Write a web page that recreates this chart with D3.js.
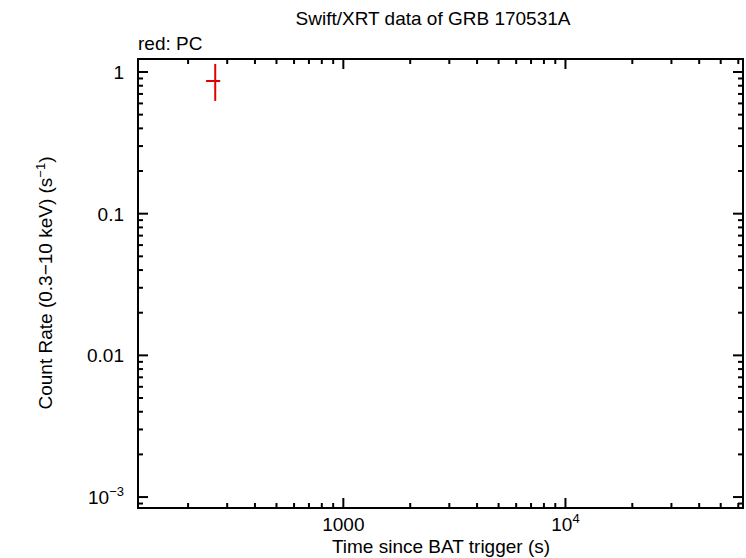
<!DOCTYPE html>
<html><head><meta charset="utf-8">
<script src="https://cdn.jsdelivr.net/npm/d3@7"></script>
<style>body{margin:0;background:#fff}text{font-family:"Liberation Sans",Arial,sans-serif}</style>
</head><body><svg width="746" height="558"></svg>
<script>
// PC data point
var times = [265];
var timeLo = [241];
var timeHi = [279];
var rates = [0.864];
var rateLo = [0.625];
var rateHi = [1.14];
var xTicks = [1000, 10000];
var yTicks = [1, 0.1, 0.01, 0.001];

var L = 138, R = 743, T = 59, B = 508;
var svg = d3.select('svg');
var x = d3.scaleLog().domain([119, 63000]).range([L, R]);
var y = d3.scaleLog().domain([8.37e-4, 1.235]).range([B, T]);

function minorTicks(sc){
	var d = sc.domain(), out = [];
	for (var e = Math.floor(Math.log10(d[0])); e <= Math.ceil(Math.log10(d[1])); e++)
		for (var m = 1; m < 10; m++){
			var v = m * Math.pow(10, e);
			if (v >= d[0] && v <= d[1]) out.push({v: v, major: m == 1});
		}
	return out;
}
var g = svg.append('g').attr('stroke', '#000').attr('stroke-width', 2);
minorTicks(x).forEach(function(t){
	var len = t.major ? 10 : 5;
	g.append('line').attr('x1', x(t.v)).attr('x2', x(t.v)).attr('y1', B).attr('y2', B - len);
	g.append('line').attr('x1', x(t.v)).attr('x2', x(t.v)).attr('y1', T).attr('y2', T + len);
});
minorTicks(y).forEach(function(t){
	var len = t.major ? 10 : 5;
	g.append('line').attr('y1', y(t.v)).attr('y2', y(t.v)).attr('x1', L).attr('x2', L + len);
	g.append('line').attr('y1', y(t.v)).attr('y2', y(t.v)).attr('x1', R).attr('x2', R - len);
});
svg.append('rect').attr('x', L).attr('y', T).attr('width', R - L).attr('height', B - T)
	.attr('fill', 'none').attr('stroke', '#000').attr('stroke-width', 2);

var fs = 19;
xTicks.forEach(function(v){
	var t = svg.append('text').attr('x', x(v)).attr('y', 531).attr('text-anchor', 'middle').attr('font-size', fs);
	if (v == 1000) t.text('1000');
	else { t.text('10'); t.append('tspan').attr('dy', -8).attr('font-size', 13).text('4'); }
});
yTicks.forEach(function(v){
	var t = svg.append('text').attr('x', 124).attr('y', y(v) + 7).attr('text-anchor', 'end').attr('font-size', fs);
	if (v == 0.001){ t.text('10'); t.append('tspan').attr('dy', -8).attr('font-size', 13).text('−3'); }
	else t.text(String(v));
});

svg.append('text').attr('x', 441).attr('y', 553).attr('text-anchor', 'middle').attr('font-size', fs).text('Time since BAT trigger (s)');
var yl = svg.append('text').attr('transform', 'translate(52,283) rotate(-90)').attr('text-anchor', 'middle').attr('font-size', fs);
yl.append('tspan').text('Count Rate (0.3−10 keV) (s');
yl.append('tspan').attr('dy', -7).attr('font-size', 13).text('−1');
yl.append('tspan').attr('dy', 7).text(')');
svg.append('text').attr('x', 433).attr('y', 25).attr('text-anchor', 'middle').attr('font-size', fs).text('Swift/XRT data of GRB 170531A');
svg.append('text').attr('x', 138).attr('y', 50).attr('font-size', fs).text('red: PC');

var pts = svg.append('g').attr('stroke', '#e00000').attr('stroke-width', 2);
times.forEach(function(t, i){
	pts.append('line').attr('x1', x(timeLo[i])).attr('x2', x(timeHi[i])).attr('y1', y(rates[i])).attr('y2', y(rates[i]));
	pts.append('line').attr('x1', x(t)).attr('x2', x(t)).attr('y1', y(rateLo[i])).attr('y2', y(rateHi[i]));
});
</script></body></html>
